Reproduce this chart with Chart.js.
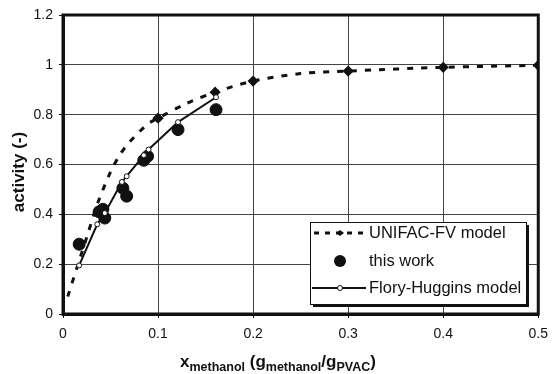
<!DOCTYPE html>
<html>
<head>
<meta charset="utf-8">
<script src="https://cdn.jsdelivr.net/npm/chart.js@4.4.1/dist/chart.umd.min.js"></script>
<style>
  html, body { margin: 0; padding: 0; background: #fff; }
  #wrap { width: 556px; height: 374px; }
</style>
</head>
<body>
<div id="wrap"><canvas id="activityPlot" width="556" height="374"></canvas></div>
<script>
// Values
const unifacX = [0.005, 0.015, 0.026, 0.036, 0.05, 0.06, 0.07, 0.08, 0.09, 0.1, 0.13, 0.16, 0.2, 0.25, 0.3, 0.4, 0.5]
const unifacY = [0.07, 0.19, 0.32, 0.44, 0.57, 0.64, 0.69, 0.73, 0.765, 0.786, 0.845, 0.89, 0.935, 0.965, 0.975, 0.99, 0.998]
const unifacMarkers = [0, 0, 0, 0, 0, 0, 0, 0, 0, 1, 0, 1, 1, 0, 1, 1, 1]

const workX = [0.017, 0.038, 0.042, 0.044, 0.063, 0.067, 0.085, 0.089, 0.121, 0.161]
const workY = [0.28, 0.41, 0.42, 0.385, 0.505, 0.473, 0.617, 0.633, 0.74, 0.82]

const floryX = [0.017, 0.036, 0.044, 0.062, 0.067, 0.085, 0.090, 0.121, 0.161]
const floryY = [0.195, 0.36, 0.405, 0.53, 0.553, 0.637, 0.66, 0.77, 0.87]

const seriesLabels = ['UNIFAC-FV model', 'this work', 'Flory-Huggins model']
const xTicks = [0, 0.1, 0.2, 0.3, 0.4, 0.5]
const yTicks = [0, 0.2, 0.4, 0.6, 0.8, 1, 1.2]

const FONT = '"Liberation Sans", Arial, sans-serif'
const toPoints = (xs, ys) => xs.map((x, i) => ({ x: x, y: ys[i] }))

// frame, axis titles and the boxed legend
const decorations = {
    id: 'decorations',
    beforeDatasetsDraw (chart) {
        const { ctx, chartArea: a } = chart
        ctx.save()
        ctx.strokeStyle = '#111'
        ctx.lineWidth = 3
        ctx.strokeRect(a.left, a.top, a.right - a.left, a.bottom - a.top)
        ctx.restore()
    },
    afterDraw (chart) {
        const { ctx } = chart
        ctx.save()
        ctx.fillStyle = '#111'

        // y title
        ctx.save()
        ctx.translate(19, 172)
        ctx.rotate(-Math.PI / 2)
        ctx.font = 'bold 17px ' + FONT
        ctx.textAlign = 'center'
        ctx.textBaseline = 'middle'
        ctx.fillText('activity (-)', 0, 0)
        ctx.restore()

        // x title with subscripts
        const pieces = [['x', 0], ['methanol', 1], [' (g', 0], ['methanol', 1], ['/g', 0], ['PVAC', 1], [')', 0]]
        let px = 180
        const base = 367
        ctx.textBaseline = 'alphabetic'
        ctx.textAlign = 'left'
        pieces.forEach(([t, sub]) => {
            ctx.font = sub ? 'bold 12.5px ' + FONT : 'bold 17px ' + FONT
            ctx.fillText(t, px, sub ? base + 4 : base)
            px += ctx.measureText(t).width
        })

        // legend box
        const bx = 310, by = 222, bw = 216, bh = 82
        ctx.fillStyle = '#111'
        ctx.fillRect(bx + 3, by + 3, bw, bh)
        ctx.fillStyle = '#fff'
        ctx.fillRect(bx, by, bw, bh)
        ctx.strokeStyle = '#111'
        ctx.lineWidth = 1
        ctx.strokeRect(bx + 0.5, by + 0.5, bw, bh)

        const rows = [233, 261, 288]
        const sx0 = 314, sx1 = 366, sxm = 340

        // row 1: dashed + diamond
        ctx.strokeStyle = '#111'
        ctx.lineWidth = 3
        ctx.setLineDash([5, 6])
        ctx.beginPath()
        ctx.moveTo(sx0, rows[0]); ctx.lineTo(sx1, rows[0])
        ctx.stroke()
        ctx.setLineDash([])
        ctx.fillStyle = '#111'
        ctx.beginPath()
        ctx.moveTo(sxm - 4, rows[0]); ctx.lineTo(sxm, rows[0] - 3)
        ctx.lineTo(sxm + 4, rows[0]); ctx.lineTo(sxm, rows[0] + 3)
        ctx.closePath(); ctx.fill()

        // row 2: filled circle
        ctx.beginPath()
        ctx.arc(sxm, rows[1], 6, 0, Math.PI * 2)
        ctx.fill()

        // row 3: solid line + open circle
        ctx.lineWidth = 2
        ctx.beginPath()
        ctx.moveTo(sx0 - 2, rows[2]); ctx.lineTo(sx1, rows[2])
        ctx.stroke()
        ctx.fillStyle = '#fff'
        ctx.lineWidth = 1
        ctx.beginPath()
        ctx.arc(sxm, rows[2], 2.5, 0, Math.PI * 2)
        ctx.fill(); ctx.stroke()

        ctx.fillStyle = '#111'
        ctx.font = '16.5px ' + FONT
        ctx.textBaseline = 'middle'
        seriesLabels.forEach((t, i) => ctx.fillText(t, 369, rows[i]))
        ctx.restore()
    }
}

new Chart(document.getElementById('activityPlot'), {
    type: 'scatter',
    data: {
        datasets: [
            {
                label: seriesLabels[0],
                data: toPoints(unifacX, unifacY),
                showLine: true,
                borderColor: '#111',
                borderWidth: 3,
                borderDash: [6, 8],
                tension: 0.3,
                pointStyle: 'rectRot',
                pointRadius: unifacMarkers.map(m => m ? 3.5 : 0),
                pointBackgroundColor: '#111',
                pointBorderColor: '#111',
                order: 3
            },
            {
                label: seriesLabels[1],
                data: toPoints(workX, workY),
                showLine: false,
                pointRadius: 6,
                pointBackgroundColor: '#111',
                pointBorderColor: '#111',
                order: 2
            },
            {
                label: seriesLabels[2],
                data: toPoints(floryX, floryY),
                showLine: true,
                borderColor: '#111',
                borderWidth: 2,
                pointRadius: 2.5,
                pointBackgroundColor: '#fff',
                pointBorderColor: '#111',
                pointBorderWidth: 1,
                order: 1
            }
        ]
    },
    options: {
        responsive: false,
        animation: false,
        layout: { padding: { left: 0, right: 12, top: 15, bottom: 0 } },
        plugins: {
            legend: { display: false },
            tooltip: { enabled: false }
        },
        scales: {
            x: {
                type: 'linear',
                min: 0,
                max: 0.5,
                afterBuildTicks: (s) => { s.ticks = xTicks.map(v => ({ value: v })) },
                afterFit: (s) => { s.height = 60 },
                grid: { color: '#444', lineWidth: 1, tickLength: 4, tickColor: '#111' },
                border: { color: '#111', width: 3 },
                ticks: {
                    color: '#111',
                    padding: 8,
                    font: { family: FONT, size: 14 },
                    callback: (v) => String(v)
                }
            },
            y: {
                type: 'linear',
                min: 0,
                max: 1.2,
                afterBuildTicks: (s) => { s.ticks = yTicks.map(v => ({ value: v })) },
                afterFit: (s) => { s.width = 63 },
                grid: { color: '#444', lineWidth: 1, tickLength: 4, tickColor: '#111' },
                border: { color: '#111', width: 3 },
                ticks: {
                    color: '#111',
                    padding: 6,
                    font: { family: FONT, size: 14 },
                    callback: (v) => String(v)
                }
            }
        }
    },
    plugins: [decorations]
})
</script>
</body>
</html>
